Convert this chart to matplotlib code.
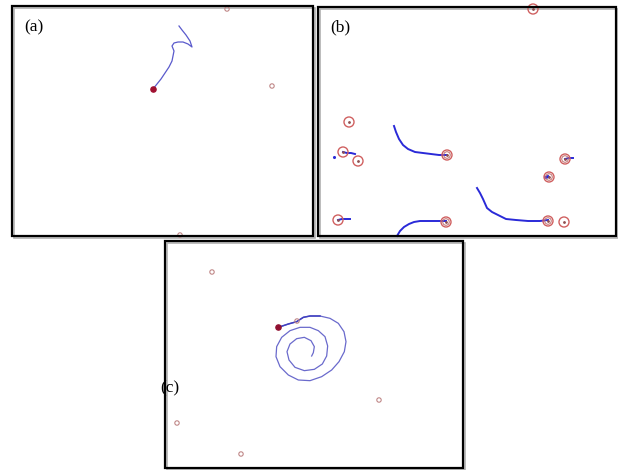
import numpy as np
import matplotlib
matplotlib.use("Agg")
import matplotlib.pyplot as plt
from matplotlib.patches import Rectangle

# panel frames in picture pixels: left, top, right, bottom
frames = [(12, 6, 313, 236), (318, 7, 616, 236), (165, 241, 463, 468)]
labels = ["(a)", "(b)", "(c)"]
label_pos = [(24, 27), (330, 27), (160, 388)]

# panel (a)
a_circles_x = [227, 272, 180]
a_circles_y = [9, 86, 235]
a_start = (153, 89)
a_path_x = [153, 157, 161, 165, 169, 172, 173, 174, 172, 174, 178, 183, 188, 192, 190, 186, 182, 179]
a_path_y = [89, 84, 79, 73, 67, 61, 56, 51, 46, 43, 42, 42, 44, 47, 41, 35, 30, 26]

# panel (b)
b_circles_x = [533, 349, 343, 358, 447, 565, 549, 338, 446, 548, 564]
b_circles_y = [9, 122, 152, 161, 155, 159, 177, 220, 222, 221, 222]
b_double_x = [447, 446, 548, 565, 549]
b_double_y = [155, 222, 221, 159, 177]
b_paths = [
    ([394, 396, 399, 403, 408, 415, 423, 431, 439, 447],
     [126, 132, 139, 145, 149, 152, 153, 154, 155, 155]),
    ([477, 480, 483, 487, 492, 498, 506, 516, 528, 540, 548],
     [188, 193, 199, 208, 212, 215, 219, 220, 221, 221, 220]),
    ([397, 400, 404, 409, 414, 420, 428, 437, 446],
     [236, 231, 227, 224, 222, 221, 221, 221, 221]),
    ([343, 347, 351, 355], [152, 153, 153, 154]),
    ([338, 342, 346, 350], [220, 219, 219, 219]),
    ([565, 569, 573], [159, 158, 158]),
    ([549, 546, 545, 548], [177, 178, 177, 176]),
]
b_specks_x = [334]
b_specks_y = [157]

# panel (c)
c_circles_x = [212, 297, 379, 177, 241]
c_circles_y = [272, 321, 400, 423, 454]
c_start = (278, 327)
c_zoom = [
    (40, 52), (70, 42), (95, 35), (115, 22), (135, 18), (165, 18), (195, 25),
    (220, 40), (237, 65), (243, 95), (238, 125), (222, 155), (200, 180),
    (170, 200), (135, 212), (100, 210), (70, 195), (45, 170), (33, 140),
    (35, 110), (50, 82), (75, 62), (105, 52), (135, 52), (160, 62), (180, 80),
    (188, 108), (185, 138), (172, 162), (148, 178), (118, 182), (90, 172),
    (72, 150), (66, 125), (75, 102), (95, 86), (118, 82), (138, 92),
    (148, 110), (145, 128), (140, 138),
]
c_path_x = [265 + p[0] / 3 for p in c_zoom]
c_path_y = [310 + p[1] / 3 for p in c_zoom]

fig = plt.figure(figsize=(6.18, 4.70), dpi=100)
ax = fig.add_axes([0, 0, 1, 1])
ax.set_xlim(0, 618)
ax.set_ylim(470, 0)
ax.axis("off")

for (l, t, r, b) in frames:
    ax.add_patch(Rectangle((l + 1.5, t + 1.5), r - l, b - t, fill=False,
                           edgecolor="#b0b0b0", lw=1.2, zorder=1))
    ax.add_patch(Rectangle((l, t), r - l, b - t, fill=False,
                           edgecolor="black", lw=1.6, zorder=5))

# (a)
ax.plot(a_path_x, a_path_y, color="#5a5acc", lw=0.9, zorder=3)
ax.scatter(a_circles_x, a_circles_y, s=10, facecolors="none",
           edgecolors="#c08888", linewidths=0.8, zorder=4)
ax.scatter([a_start[0]], [a_start[1]], s=14, color="#a01030", zorder=4)

# (b)
for px, py in b_paths:
    ax.plot(px, py, color="#2a2ad8", lw=1.4, zorder=3)
ax.scatter(b_specks_x, b_specks_y, s=1.5, color="#2a2ad8", zorder=3)
ax.scatter(b_circles_x, b_circles_y, s=52, facecolors="none",
           edgecolors="#d06060", linewidths=1.0, zorder=4)
ax.scatter(b_double_x, b_double_y, s=22, facecolors="none",
           edgecolors="#c07070", linewidths=0.7, zorder=4)
ax.scatter(b_circles_x, b_circles_y, s=1, color="#905050", zorder=4)

# (c)
ax.plot(c_path_x, c_path_y, color="#6a6acc", lw=0.9, zorder=3)
ax.plot(c_path_x[:6], c_path_y[:6], color="#4040c0", lw=1.1, zorder=3)
ax.scatter(c_circles_x, c_circles_y, s=10, facecolors="none",
           edgecolors="#c08888", linewidths=0.8, zorder=4)
ax.scatter([c_start[0]], [c_start[1]], s=14, color="#901030", zorder=4)

for txt, (x, y) in zip(labels, label_pos):
    ax.text(x, y, txt, fontsize=12.5, family="Liberation Serif",
            va="center", ha="left", zorder=6)

fig.savefig("out.png", dpi=100)
